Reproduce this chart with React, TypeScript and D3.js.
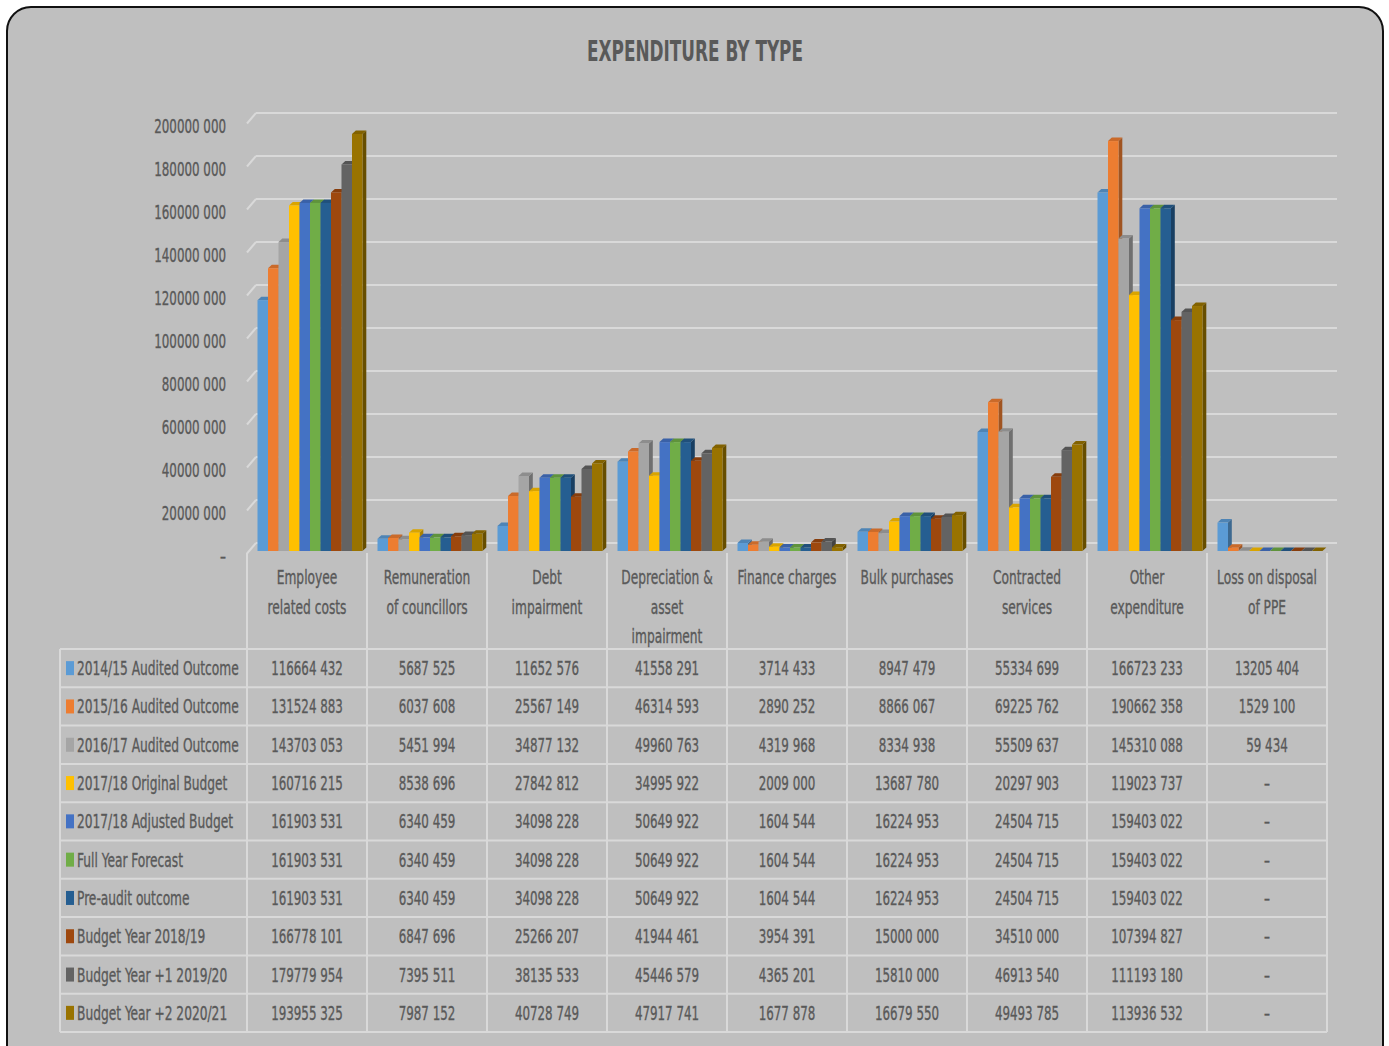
import React from 'react';
import * as d3 from 'd3';

const categories = [
  'Employee related costs', 'Remuneration of councillors', 'Debt impairment',
  'Depreciation & asset impairment', 'Finance charges', 'Bulk purchases',
  'Contracted services', 'Other expenditure', 'Loss on disposal of PPE',
];
const categoryLines = [
  ['Employee', 'related costs'], ['Remuneration', 'of councillors'], ['Debt', 'impairment'],
  ['Depreciation &', 'asset', 'impairment'], ['Finance charges'], ['Bulk purchases'],
  ['Contracted', 'services'], ['Other', 'expenditure'], ['Loss on disposal', 'of PPE'],
];

const seriesNames = [
  '2014/15 Audited Outcome', '2015/16 Audited Outcome', '2016/17 Audited Outcome',
  '2017/18 Original Budget', '2017/18 Adjusted Budget', 'Full Year Forecast',
  'Pre-audit outcome', 'Budget Year 2018/19', 'Budget Year +1 2019/20', 'Budget Year +2 2020/21',
];
const seriesColors = ['#5b9bd5', '#ed7d31', '#a5a5a5', '#ffc000', '#4472c4', '#70ad47', '#255e91', '#9e480e', '#636363', '#997300'];

const audited1415 = [116664432, 5687525, 11652576, 41558291, 3714433, 8947479, 55334699, 166723233, 13205404];
const audited1516 = [131524883, 6037608, 25567149, 46314593, 2890252, 8866067, 69225762, 190662358, 1529100];
const audited1617 = [143703053, 5451994, 34877132, 49960763, 4319968, 8334938, 55509637, 145310088, 59434];
const original1718 = [160716215, 8538696, 27842812, 34995922, 2009000, 13687780, 20297903, 119023737, null];
const adjusted1718 = [161903531, 6340459, 34098228, 50649922, 1604544, 16224953, 24504715, 159403022, null];
const fullYear = [161903531, 6340459, 34098228, 50649922, 1604544, 16224953, 24504715, 159403022, null];
const preAudit = [161903531, 6340459, 34098228, 50649922, 1604544, 16224953, 24504715, 159403022, null];
const budget1819 = [166778101, 6847696, 25266207, 41944461, 3954391, 15000000, 34510000, 107394827, null];
const budget1920 = [179779954, 7395511, 38135533, 45446579, 4365201, 15810000, 46913540, 111193180, null];
const budget2021 = [193955325, 7987152, 40728749, 47917741, 1677878, 16679550, 49493785, 113936532, null];
const seriesValues: (number | null)[][] = [
  audited1415, audited1516, audited1617, original1718, adjusted1718,
  fullYear, preAudit, budget1819, budget1920, budget2021,
];

const yTicks = [0, 20000000, 40000000, 60000000, 80000000, 100000000, 120000000, 140000000, 160000000, 180000000, 200000000];

const FONT = '"Liberation Sans Narrow", "DejaVu Sans Condensed", "Arial Narrow", sans-serif';
const SX = 0.68;
const SXNUM = 0.66;
const TEXT = '#595959';
const LINE = '#d9d9d9';

const fmt = (v: number | null) => {
  if (v == null || v === 0) return '–';
  const hi = Math.floor(v / 1000);
  const lo = String(v % 1000).padStart(3, '0');
  return hi > 0 ? `${hi} ${lo}` : String(v);
};

const Txt = ({ x, y, anchor = 'middle', size = 20, weight = 'normal', sx = SX, children }: any) => (
  <text
    transform={`translate(${x},${y}) scale(${sx},1)`}
    textAnchor={anchor}
    dy="0.35em"
    fontFamily={FONT}
    fontSize={size}
    fontWeight={weight}
    fill={TEXT}
    stroke={TEXT}
    strokeWidth={weight === 'bold' ? 0 : 0.35}
  >
    {children}
  </text>
);

export default function App() {
  const W = 1389, H = 1046;
  // 3D offsets: front plane (labels) vs back wall (gridlines)
  const depthX = 9, depthY = 10.5;
  const x = d3.scaleBand<string>().domain(categories).range([247, 1327]);
  const xs = d3.scaleBand<string>().domain(seriesNames).range([10.5, 115.5]);
  const yBack = d3.scaleLinear().domain([0, 200000000]).range([543, 113]);
  const yBar = d3.scaleLinear().domain([0, 200000000]).range([551, 121]);
  const capX = 3.8, capY = 3.5;

  const rowTop = 649, rowH = 38.3;
  const tableBottom = rowTop + rowH * seriesNames.length;

  return (
    <svg width={W} height={H} style={{ position: 'absolute', left: 0, top: 0 }}>
      <rect x={0} y={0} width={W} height={H} fill="#fff" />
      <rect x={7} y={7} width={1376} height={1080} rx={24} fill="#bfbfbf" stroke="#111" strokeWidth={2} />

      <Txt x={695} y={51} size={28} weight="bold" sx={0.67}>EXPENDITURE BY TYPE</Txt>

      {/* gridlines and y axis */}
      {yTicks.map(t => (
        <g key={t}>
          <line x1={247} y1={yBack(t) + depthY} x2={247 + depthX} y2={yBack(t)} stroke={LINE} strokeWidth={2} />
          <line x1={247 + depthX} y1={yBack(t)} x2={1327 + depthX + 1} y2={yBack(t)} stroke={LINE} strokeWidth={2} />
          <Txt x={226} y={yBack(t) + depthY + 2} anchor="end" sx={SXNUM}>{fmt(t)}</Txt>
        </g>
      ))}

      {/* bars */}
      {categories.map((c, ci) => (
        <g key={c}>
          {seriesNames.map((s, si) => {
            const v = seriesValues[si][ci] ?? 0;
            const x0 = (x(c) as number) + (xs(s) as number);
            const w = xs.bandwidth();
            const y0 = yBar(v), yb = yBar(0);
            const col = d3.color(seriesColors[si])!;
            return (
              <g key={s}>
                <path
                  d={`M${x0 + w},${yb} L${x0 + w + capX},${yb - capY} L${x0 + w + capX},${y0 - capY} L${x0 + w},${y0} Z`}
                  fill={col.darker(1.1).toString()}
                />
                <path
                  d={`M${x0},${y0} L${x0 + capX},${y0 - capY} L${x0 + w + capX},${y0 - capY} L${x0 + w},${y0} Z`}
                  fill={col.darker(0.45).toString()}
                />
                <rect x={x0} y={y0} width={w} height={yb - y0} fill={seriesColors[si]} />
              </g>
            );
          })}
        </g>
      ))}

      {/* table grid */}
      {d3.range(categories.length + 1).map(i => {
        const xx = 247 + i * x.bandwidth();
        return <line key={'v' + i} x1={xx} y1={553} x2={xx} y2={tableBottom} stroke={LINE} strokeWidth={2} />;
      })}
      <line x1={60} y1={rowTop} x2={60} y2={tableBottom} stroke={LINE} strokeWidth={2} />
      {d3.range(seriesNames.length + 1).map(i => (
        <line key={'h' + i} x1={60} y1={rowTop + i * rowH} x2={1327} y2={rowTop + i * rowH} stroke={LINE} strokeWidth={2} />
      ))}

      {/* category headers */}
      {categories.map((c, ci) => (
        <g key={'hdr' + c}>
          {categoryLines[ci].map((ln, li) => (
            <Txt key={li} x={(x(c) as number) + x.bandwidth() / 2} y={577 + li * 29.5}>{ln}</Txt>
          ))}
        </g>
      ))}

      {/* table rows */}
      {seriesNames.map((s, si) => {
        const cy = rowTop + si * rowH + rowH / 2;
        return (
          <g key={'row' + s}>
            <rect x={66} y={cy - 7} width={8} height={14} fill={seriesColors[si]} />
            <Txt x={77} y={cy} anchor="start">{s}</Txt>
            {categories.map((c, ci) => (
              <Txt key={c} x={(x(c) as number) + x.bandwidth() / 2} y={cy} sx={SXNUM}>{fmt(seriesValues[si][ci])}</Txt>
            ))}
          </g>
        );
      })}
    </svg>
  );
}
